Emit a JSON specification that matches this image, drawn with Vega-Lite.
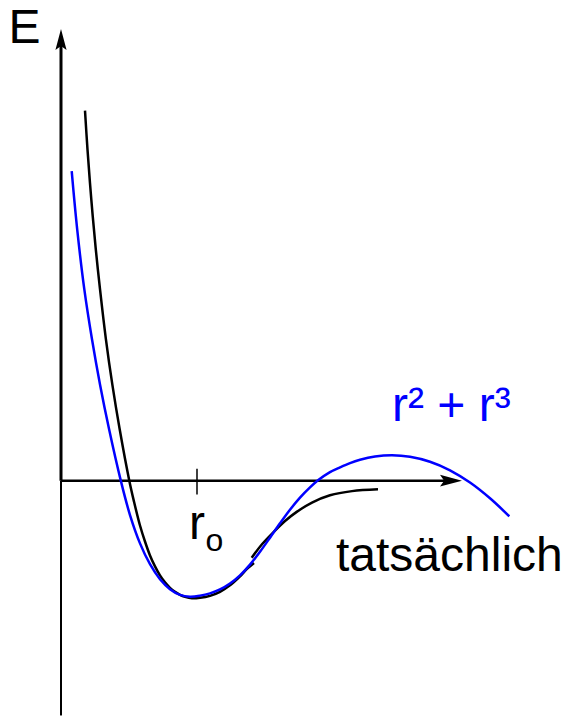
{
  "$schema": "https://vega.github.io/schema/vega-lite/v6.json",
  "width": 565,
  "height": 717,
  "autosize": {"type": "fit", "contains": "padding"},
  "padding": 0,
  "background": "white",
  "config": {"view": {"stroke": null}},
  "datasets": {
    "actual": [
      {"seg": "a", "i": 0, "r": 0.1765, "E": 3.1983},
      {"seg": "a", "i": 1, "r": 0.1949, "E": 2.8621},
      {"seg": "a", "i": 2, "r": 0.2228, "E": 2.431},
      {"seg": "a", "i": 3, "r": 0.2559, "E": 2.0},
      {"seg": "a", "i": 4, "r": 0.2868, "E": 1.6552},
      {"seg": "a", "i": 5, "r": 0.3301, "E": 1.2241},
      {"seg": "a", "i": 6, "r": 0.3779, "E": 0.8276},
      {"seg": "a", "i": 7, "r": 0.4309, "E": 0.4483},
      {"seg": "a", "i": 8, "r": 0.5022, "E": 0.0},
      {"seg": "a", "i": 9, "r": 0.5368, "E": -0.181},
      {"seg": "a", "i": 10, "r": 0.5809, "E": -0.3879},
      {"seg": "a", "i": 11, "r": 0.6176, "E": -0.5259},
      {"seg": "a", "i": 12, "r": 0.6544, "E": -0.6466},
      {"seg": "a", "i": 13, "r": 0.6912, "E": -0.7414},
      {"seg": "a", "i": 14, "r": 0.7279, "E": -0.819},
      {"seg": "a", "i": 15, "r": 0.7647, "E": -0.8793},
      {"seg": "a", "i": 16, "r": 0.8015, "E": -0.9267},
      {"seg": "a", "i": 17, "r": 0.8382, "E": -0.9612},
      {"seg": "a", "i": 18, "r": 0.875, "E": -0.9871},
      {"seg": "a", "i": 19, "r": 0.9118, "E": -1.0043},
      {"seg": "a", "i": 20, "r": 0.9632, "E": -1.0172},
      {"seg": "a", "i": 21, "r": 1.0221, "E": -1.0129},
      {"seg": "a", "i": 22, "r": 1.0956, "E": -0.9957},
      {"seg": "a", "i": 23, "r": 1.1691, "E": -0.9612},
      {"seg": "a", "i": 24, "r": 1.2426, "E": -0.9052},
      {"seg": "a", "i": 25, "r": 1.3162, "E": -0.8276},
      {"seg": "a", "i": 26, "r": 1.3676, "E": -0.7629},
      {"seg": "a", "i": 27, "r": 1.4191, "E": -0.7112},
      {"seg": "b", "i": 28, "r": 1.4022, "E": -0.6664},
      {"seg": "b", "i": 29, "r": 1.4779, "E": -0.55},
      {"seg": "b", "i": 30, "r": 1.561, "E": -0.4466},
      {"seg": "b", "i": 31, "r": 1.6471, "E": -0.3491},
      {"seg": "b", "i": 32, "r": 1.7331, "E": -0.2698},
      {"seg": "b", "i": 33, "r": 1.8456, "E": -0.1897},
      {"seg": "b", "i": 34, "r": 1.9779, "E": -0.1267},
      {"seg": "b", "i": 35, "r": 2.1397, "E": -0.0905},
      {"seg": "b", "i": 36, "r": 2.3309, "E": -0.075}
    ],
    "model": [
      {"i": 0, "r": 0.0787, "E": 2.675},
      {"i": 1, "r": 0.1191, "E": 2.1724},
      {"i": 2, "r": 0.1713, "E": 1.6552},
      {"i": 3, "r": 0.2276, "E": 1.2241},
      {"i": 4, "r": 0.2875, "E": 0.8276},
      {"i": 5, "r": 0.3529, "E": 0.4483},
      {"i": 6, "r": 0.4397, "E": 0.0},
      {"i": 7, "r": 0.5074, "E": -0.2974},
      {"i": 8, "r": 0.5809, "E": -0.5422},
      {"i": 9, "r": 0.6544, "E": -0.7224},
      {"i": 10, "r": 0.7279, "E": -0.8517},
      {"i": 11, "r": 0.8015, "E": -0.9379},
      {"i": 12, "r": 0.875, "E": -0.9871},
      {"i": 13, "r": 0.9485, "E": -1.0026},
      {"i": 14, "r": 1.0221, "E": -0.994},
      {"i": 15, "r": 1.0956, "E": -0.9741},
      {"i": 16, "r": 1.1691, "E": -0.9405},
      {"i": 17, "r": 1.2426, "E": -0.8897},
      {"i": 18, "r": 1.3162, "E": -0.819},
      {"i": 19, "r": 1.3897, "E": -0.7259},
      {"i": 20, "r": 1.4632, "E": -0.6147},
      {"i": 21, "r": 1.5368, "E": -0.4931},
      {"i": 22, "r": 1.6103, "E": -0.369},
      {"i": 23, "r": 1.6838, "E": -0.2517},
      {"i": 24, "r": 1.7574, "E": -0.1474},
      {"i": 25, "r": 1.8309, "E": -0.0586},
      {"i": 26, "r": 1.8897, "E": 0.0026},
      {"i": 27, "r": 1.9779, "E": 0.0733},
      {"i": 28, "r": 2.0515, "E": 0.1147},
      {"i": 29, "r": 2.125, "E": 0.1517},
      {"i": 30, "r": 2.1985, "E": 0.1802},
      {"i": 31, "r": 2.3088, "E": 0.2086},
      {"i": 32, "r": 2.4338, "E": 0.2198},
      {"i": 33, "r": 2.5662, "E": 0.2069},
      {"i": 34, "r": 2.7132, "E": 0.1638},
      {"i": 35, "r": 2.8603, "E": 0.0897},
      {"i": 36, "r": 3.0074, "E": -0.0164},
      {"i": 37, "r": 3.1544, "E": -0.1526},
      {"i": 38, "r": 3.2963, "E": -0.3086}
    ],
    "yaxisUpper": [{"r": 0, "E": 0, "E2": 3.813}],
    "yaxisLower": [{"r": 0, "E": -2.03, "E2": 0}],
    "xaxis": [{"r": 0, "r2": 2.8676, "E": 0}],
    "arrows": [
      {"dir": "up", "r": 0, "E": 3.813},
      {"dir": "right", "r": 2.8676, "E": 0}
    ],
    "tick": [{"r": 1.0, "E": 0.1034, "E2": -0.1207}],
    "labels": [
      {"t": "E", "r": -0.386, "E": 3.784},
      {"t": "tatsächlich", "r": 2.022, "E": -0.778},
      {"t": "r", "r": 0.941, "E": -0.506}
    ],
    "sub": [{"t": "o", "r": 1.0618, "E": -0.608}],
    "blueLabel": [{"t": "r² + r³", "r": 2.434, "E": 0.52}]
  },
  "layer": [
    {
      "data": {"name": "yaxisUpper"},
      "mark": {"type": "rule", "color": "black", "strokeWidth": 3},
      "encoding": {
        "x": {"field": "r", "type": "quantitative", "scale": {"domain": [-0.4485, 3.7059], "nice": false, "zero": false}, "axis": null},
        "y": {"field": "E", "type": "quantitative", "scale": {"domain": [-2.0259, 4.1552], "nice": false, "zero": false}, "axis": null},
        "y2": {"field": "E2"}
      }
    },
    {
      "data": {"name": "yaxisLower"},
      "mark": {"type": "rule", "color": "black", "strokeWidth": 2},
      "encoding": {
        "x": {"field": "r", "type": "quantitative"},
        "y": {"field": "E", "type": "quantitative"},
        "y2": {"field": "E2"}
      }
    },
    {
      "data": {"name": "xaxis"},
      "mark": {"type": "rule", "color": "black", "strokeWidth": 2.5},
      "encoding": {
        "x": {"field": "r", "type": "quantitative"},
        "x2": {"field": "r2"},
        "y": {"field": "E", "type": "quantitative"}
      }
    },
    {
      "data": {"name": "tick"},
      "mark": {"type": "rule", "color": "black", "strokeWidth": 1.5},
      "encoding": {
        "x": {"field": "r", "type": "quantitative"},
        "y": {"field": "E", "type": "quantitative"},
        "y2": {"field": "E2"}
      }
    },
    {
      "data": {"name": "arrows"},
      "mark": {"type": "point", "shape": "M0,-1L0.53,1L0,0.62L-0.53,1Z", "filled": true, "color": "black", "opacity": 1, "strokeWidth": 0},
      "encoding": {
        "x": {"field": "r", "type": "quantitative"},
        "y": {"field": "E", "type": "quantitative"},
        "angle": {"field": "dir", "type": "nominal", "scale": {"domain": ["up", "right"], "range": [0, 90]}, "legend": null},
        "size": {"field": "dir", "type": "nominal", "scale": {"domain": ["up", "right"], "range": [441, 484]}, "legend": null}
      }
    },
    {
      "data": {"name": "actual"},
      "mark": {"type": "line", "interpolate": "catmull-rom", "color": "black", "strokeWidth": 2.5},
      "encoding": {
        "x": {"field": "r", "type": "quantitative"},
        "y": {"field": "E", "type": "quantitative"},
        "detail": {"field": "seg", "type": "nominal"},
        "order": {"field": "i", "type": "quantitative"}
      }
    },
    {
      "data": {"name": "model"},
      "mark": {"type": "line", "interpolate": "catmull-rom", "color": "#0000ff", "strokeWidth": 2.5},
      "encoding": {
        "x": {"field": "r", "type": "quantitative"},
        "y": {"field": "E", "type": "quantitative"},
        "order": {"field": "i", "type": "quantitative"}
      }
    },
    {
      "data": {"name": "labels"},
      "mark": {"type": "text", "align": "left", "baseline": "alphabetic", "font": "Liberation Sans", "fontSize": 48, "color": "black"},
      "encoding": {
        "x": {"field": "r", "type": "quantitative"},
        "y": {"field": "E", "type": "quantitative"},
        "text": {"field": "t", "type": "nominal"}
      }
    },
    {
      "data": {"name": "sub"},
      "mark": {"type": "text", "align": "left", "baseline": "alphabetic", "font": "Liberation Sans", "fontSize": 32, "color": "black"},
      "encoding": {
        "x": {"field": "r", "type": "quantitative"},
        "y": {"field": "E", "type": "quantitative"},
        "text": {"field": "t", "type": "nominal"}
      }
    },
    {
      "data": {"name": "blueLabel"},
      "mark": {"type": "text", "align": "left", "baseline": "alphabetic", "font": "Liberation Sans", "fontSize": 48, "color": "#0000ff"},
      "encoding": {
        "x": {"field": "r", "type": "quantitative"},
        "y": {"field": "E", "type": "quantitative"},
        "text": {"field": "t", "type": "nominal"}
      }
    }
  ]
}
